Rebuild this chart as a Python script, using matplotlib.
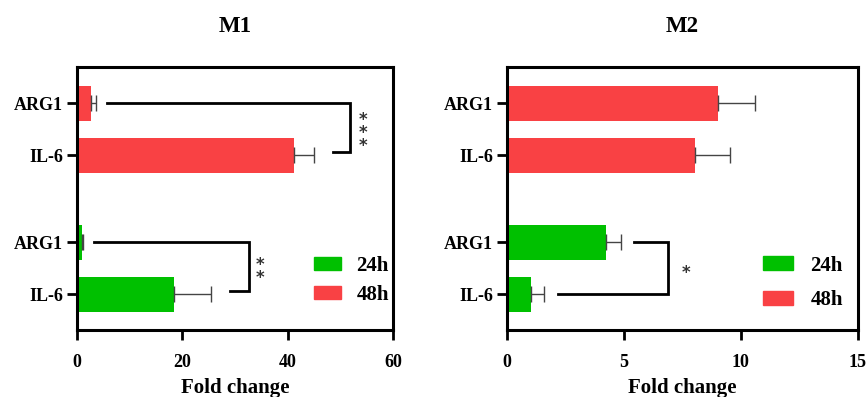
import matplotlib.pyplot as plt
from matplotlib.patches import Patch

genes = ["IL-6", "ARG1", "IL-6", "ARG1"]
groups = ["24h", "24h", "48h", "48h"]

m1_values = [18.4, 0.95, 41.3, 2.66]
m1_errors = [7.1, 0.32, 3.8, 1.0]
m2_values = [1.04, 4.23, 8.03, 9.04]
m2_errors = [0.56, 0.66, 1.51, 1.56]

colors = {"24h": "#00C000", "48h": "#F94144"}

# y positions: the two 48h bars sit higher, with a gap between groups
ypos = [0, 1, 2.67, 3.67]

plt.rcParams["font.family"] = ["Liberation Serif", "DejaVu Serif"]
plt.rcParams["font.weight"] = "bold"

fig = plt.figure(figsize=(8.67, 3.97), dpi=100)
ax1 = fig.add_axes([0.0885, 0.1688, 0.3648, 0.6624])
ax2 = fig.add_axes([0.5844, 0.1688, 0.4050, 0.6624])


def draw_panel(ax, title, values, errors, xmax, xstep):
    bar_colors = [colors[g] for g in groups]
    ax.barh(ypos, values, height=0.67, color=bar_colors, zorder=2)
    ax.errorbar(values, ypos, xerr=[[0] * len(errors), errors], fmt="none",
                ecolor="#444444", elinewidth=1.0, capsize=6, capthick=1.0, zorder=3)
    ax.set_xlim(0, xmax)
    ax.set_ylim(-0.69, 4.37)
    ax.set_xticks(range(0, xmax + 1, xstep))
    ax.set_yticks(ypos)
    ax.set_yticklabels(genes, fontsize=13, fontweight="bold")
    for lab in ax.get_xticklabels():
        lab.set_fontsize(13)
        lab.set_fontweight("bold")
    ax.set_xlabel("Fold change", fontsize=15, fontweight="bold", labelpad=5)
    ax.set_title(title, fontsize=16.5, fontweight="bold", pad=25)
    for sp in ax.spines.values():
        sp.set_linewidth(2.2)
    ax.tick_params(axis="both", width=2.0, length=7)
    ax.tick_params(axis="x", pad=10)
    ax.tick_params(axis="y", pad=3)


def add_legend(ax, anchor, hlen, hheight, spacing, textpad):
    ax.legend(handles=[Patch(color=colors["24h"], label="24h"),
                       Patch(color=colors["48h"], label="48h")],
              loc="lower right", bbox_to_anchor=anchor, frameon=False,
              borderpad=0, borderaxespad=0,
              prop={"size": 15, "weight": "bold"}, handlelength=hlen,
              handleheight=hheight, labelspacing=spacing, handletextpad=textpad)


def bracket(ax, y_top, y_bot, x_top, x_bot, x_vert, star_x, stars):
    ax.plot([x_top, x_vert, x_vert, x_bot], [y_top, y_top, y_bot, y_bot],
            color="black", lw=2.0, solid_joinstyle="miter", zorder=4)
    mid = (y_top + y_bot) / 2
    ax.text(star_x, mid - 0.1, "\n".join(stars), ha="center", va="center",
            fontsize=12, color="#333333", family="DejaVu Sans", linespacing=0.65)


draw_panel(ax1, "M1", m1_values, m1_errors, 60, 20)
draw_panel(ax2, "M2", m2_values, m2_errors, 15, 5)

add_legend(ax1, (0.987, 0.095), 1.3, 0.62, 0.45, 0.72)
add_legend(ax2, (0.958, 0.075), 1.44, 0.67, 0.7, 0.82)

bracket(ax1, ypos[3], ypos[2] + 0.06, 5.8, 48.7, 51.9, 54.4, "***")
bracket(ax1, ypos[1], ypos[0] + 0.06, 3.3, 29.0, 32.7, 34.8, "**")
bracket(ax2, ypos[1], ypos[0], 5.46, 2.19, 6.91, 7.67, "*")

fig.savefig("out.png", dpi=100)
